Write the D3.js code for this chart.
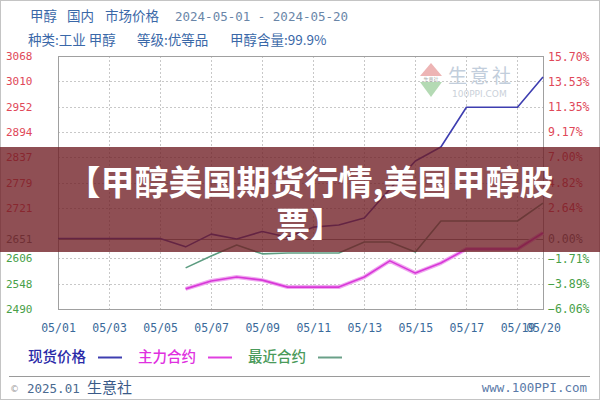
<!DOCTYPE html>
<html><head><meta charset="utf-8">
<script src="https://cdn.jsdelivr.net/npm/d3@7"></script>
<style>
html,body{margin:0;padding:0;background:#fff;}
svg{display:block;}
</style></head>
<body>
<svg id="c" width="600" height="400"></svg>
<script>
const dates = ["05/01","05/02","05/03","05/04","05/05","05/06","05/07","05/08","05/09","05/10","05/11","05/12","05/13","05/14","05/15","05/16","05/17","05/18","05/19","05/20"];
const spotPrice = [2651,2651,2651,2651,2651,2632,2661,2650,2667,2654,2677,2682,2698,2764,2828,2860,2951,2951,2951,3020];
const mainContract = [null,null,null,null,null,2536,2554,2563,2556,2540,2540,2540,2563,2600,2572,2595,2627,2627,2627,2664];
const nearContract = [null,null,null,null,null,2584,2611,2636,2616,2618,2618,2618,2643,2643,2620,2691,2691,2691,2691,2732];
const basePrice = 2651;
const leftTicks = [3068,3010,2952,2894,2837,2779,2721,2651,2606,2548,2490];
const rightTicks = [15.70,13.53,11.35,9.17,7.00,4.82,2.64,0.00,-1.71,-3.89,-6.06];
const xTickLabels = ["05/01","05/03","05/05","05/07","05/09","05/11","05/13","05/15","05/17","05/19","05/20"];
const seriesNames = ["现货价格","主力合约","最近合约"];
const titleLine1 = ["甲醇","国内","市场价格","2024-05-01 - 2024-05-20"];
const titleLine2 = ["种类:工业 甲醇","等级:优等品","甲醇含量:99.9%"];
const overlayTitle = ["【甲醇美国期货行情,美国甲醇股","票】"];

const svg = d3.select("#c");
const W = 600, H = 400;
const L = 58, R = 543, T = 56, B = 309;
const mono = "'DejaVu Sans Mono','Noto Sans CJK SC',monospace";
const cjk = "'Noto Sans CJK SC','Noto Sans',sans-serif";

svg.append("rect").attr("x",0.5).attr("y",0.5).attr("width",W-1).attr("height",H-1)
  .attr("fill","#fff").attr("stroke","#c4c4c4");

const x = d3.scalePoint().domain(dates).range([L,R]);
const y = d3.scaleLinear().domain([2490,3068]).range([B,T]);

// header
const h1x = [30,67,105,175];
svg.append("g").selectAll("text").data(titleLine1).join("text")
  .attr("x",(d,i)=>h1x[i]).attr("y",21)
  .attr("font-family",(d,i)=>i<3?cjk:mono).attr("font-size",(d,i)=>i<3?13.5:12.5)
  .attr("fill",(d,i)=>i<3?"#3a68a8":"#6a86a8").text(d=>d);
const h2x = [28,137,230];
svg.append("g").selectAll("text").data(titleLine2).join("text")
  .attr("x",(d,i)=>h2x[i]).attr("y",45)
  .attr("font-family",cjk).attr("font-size",13.5)
  .attr("fill","#3a68a8").text(d=>d);

// gridlines
const grid = svg.append("g");
grid.selectAll("line.h").data(leftTicks.filter(v=>v!==basePrice && v!==3068 && v!==2490)).join("line")
  .attr("x1",L).attr("x2",R).attr("y1",d=>Math.round(y(d))+0.5).attr("y2",d=>Math.round(y(d))+0.5)
  .attr("stroke","#c8c8c8").attr("stroke-dasharray","2,2");
grid.selectAll("line.v").data(xTickLabels.slice(1,10)).join("line")
  .attr("y1",T).attr("y2",B).attr("x1",d=>Math.round(x(d))+0.5).attr("x2",d=>Math.round(x(d))+0.5)
  .attr("stroke","#c8c8c8").attr("stroke-dasharray","2,2");
grid.append("line").attr("x1",L).attr("x2",R)
  .attr("y1",Math.round(y(basePrice))+0.5).attr("y2",Math.round(y(basePrice))+0.5)
  .attr("stroke","#8a8a8a").attr("stroke-width",1);

// watermark
const wm = svg.append("g").attr("opacity",0.85);
wm.append("path").attr("d","M431,63 L420,76 L442,76 Z").attr("fill","#eaa8a8");
wm.append("path").attr("d","M420,82 L442,82 L431,97 Z").attr("fill","#a8d4a8");
wm.append("text").attr("x",431).attr("y",81).attr("text-anchor","middle").attr("font-size",5)
  .attr("font-family",cjk).attr("fill","#999").text("生意社");
wm.append("text").attr("x",448).attr("y",83).attr("font-family",cjk).attr("font-size",19)
  .attr("fill","#b8c6d6").attr("letter-spacing",3).text("生意社");
wm.append("text").attr("x",452).attr("y",97).attr("font-family","'DejaVu Sans',sans-serif").attr("font-size",9)
  .attr("fill","#c2cad4").text("100PPI.COM");

// frame
svg.append("rect").attr("x",L+0.5).attr("y",T+0.5).attr("width",R-L).attr("height",B-T)
  .attr("fill","none").attr("stroke","#a0a0a0");

// lines
const line = d3.line().defined(d=>d[1]!=null).x(d=>x(d[0])).y(d=>y(d[1]));
const zip = arr => dates.map((d,i)=>[d,arr[i]]);
svg.append("path").datum(zip(mainContract)).attr("d",line).attr("fill","none")
  .attr("stroke","#f0a8f0").attr("stroke-width",4).attr("stroke-linejoin","round");
svg.append("path").datum(zip(mainContract)).attr("d",line).attr("fill","none")
  .attr("stroke","#d838d8").attr("stroke-width",1.6).attr("stroke-linejoin","round");
svg.append("path").datum(zip(nearContract)).attr("d",line).attr("fill","none")
  .attr("stroke","#5c9c80").attr("stroke-width",1.6).attr("stroke-linejoin","round");
svg.append("path").datum(zip(spotPrice)).attr("d",line).attr("fill","none")
  .attr("stroke","#3e3eb0").attr("stroke-width",1.6).attr("stroke-linejoin","round");

// left axis
const colorFor = v => v>basePrice+0.5 ? "#e04858" : (v<basePrice-0.5 ? "#48a048" : "#707070");
const la = svg.append("g").attr("transform","translate(6,0)")
  .call(d3.axisLeft(y).tickValues(leftTicks).tickSize(0).tickPadding(0).tickFormat(d3.format("d")));
la.select(".domain").remove();
la.selectAll("text").attr("text-anchor","start").attr("x",0)
  .attr("font-family",mono).attr("font-size",11).attr("fill",d=>colorFor(d));

// right axis
const yPct = p => y(basePrice*(1+p/100));
const yR = d3.scaleLinear().domain([rightTicks[rightTicks.length-1],rightTicks[0]]).range([yPct(rightTicks[rightTicks.length-1]),yPct(rightTicks[0])]);
const ra = svg.append("g").attr("transform","translate(548,0)")
  .call(d3.axisRight(yR).tickValues(rightTicks).tickSize(0).tickPadding(0).tickFormat(d=>d3.format(".2f")(d)+"%"));
ra.select(".domain").remove();
ra.selectAll("text").attr("font-family",mono).attr("font-size",11.5)
  .attr("fill",d=>d>0?"#e04858":(d<0?"#48a048":"#707070"));

// x axis
const xa = svg.append("g").attr("transform","translate(0,324)")
  .call(d3.axisBottom(x).tickValues(xTickLabels).tickSize(0).tickPadding(0));
xa.select(".domain").remove();
xa.selectAll("text").attr("font-family",mono).attr("font-size",11.5).attr("fill","#3a6a9a");

// legend
const legColors = ["#2a2aa8","#e030e0","#4a9a5a"];
const lineColors = ["#3e3eb0","#e040e0","#6aa088"];
const legX = [28,138,248];
const lg = svg.append("g");
seriesNames.forEach((n,i)=>{
  lg.append("text").attr("x",legX[i]).attr("y",362).attr("font-family",cjk).attr("font-size",14.5)
    .attr("font-weight",500).attr("fill",legColors[i]).text(n);
  lg.append("line").attr("x1",legX[i]+70).attr("x2",legX[i]+94).attr("y1",357.5).attr("y2",357.5)
    .attr("stroke",lineColors[i]).attr("stroke-width",2);
});

// footer
svg.append("line").attr("x1",9).attr("x2",590).attr("y1",376.5).attr("y2",376.5).attr("stroke","#9a9a9a");
svg.append("text").attr("x",10).attr("y",392).attr("font-family","'DejaVu Sans',sans-serif").attr("font-size",9).attr("fill","#999").text("©");
svg.append("text").attr("x",27).attr("y",393).attr("font-family",mono).attr("font-size",12.5).attr("fill","#4a6a90").text("2025.01");
svg.append("text").attr("x",87).attr("y",393).attr("font-family",cjk).attr("font-size",15).attr("fill","#3a5a88").text("生意社");
svg.append("text").attr("x",587).attr("y",392).attr("text-anchor","end").attr("font-family",mono).attr("font-size",12.5).attr("fill","#5a7aa8").text("www.100PPI.com");

// overlay banner
svg.append("rect").attr("x",0).attr("y",147).attr("width",W).attr("height",105)
  .attr("fill","rgb(111,30,36)").attr("fill-opacity",0.78);
svg.append("g").selectAll("text").data(overlayTitle).join("text")
  .attr("x",310).attr("y",(d,i)=>180+i*42).attr("text-anchor","middle").attr("dominant-baseline","central")
  .attr("font-family",cjk).attr("font-size",34).attr("font-weight",700).attr("fill","#fff").text(d=>d);
</script>
</body></html>
